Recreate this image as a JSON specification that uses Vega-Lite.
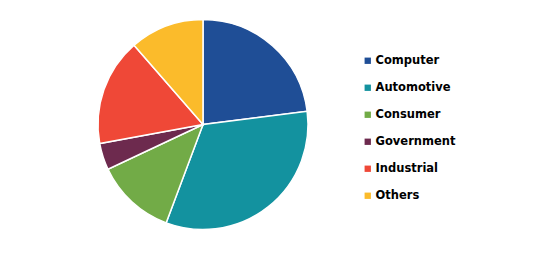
{
  "$schema": "https://vega.github.io/schema/vega-lite/v6.json",
  "autosize": "none",
  "padding": {"left": 0, "top": 0, "right": 129, "bottom": 4},
  "width": 406,
  "height": 249,
  "background": "white",
  "data": {
    "values": [
      {"idx": 1, "sector": "Computer", "share": 23.0},
      {"idx": 2, "sector": "Automotive", "share": 32.7},
      {"idx": 3, "sector": "Consumer", "share": 12.3},
      {"idx": 4, "sector": "Government", "share": 4.1},
      {"idx": 5, "sector": "Industrial", "share": 16.5},
      {"idx": 6, "sector": "Others", "share": 11.4}
    ]
  },
  "mark": {"type": "arc", "outerRadius": 105, "stroke": "white", "strokeWidth": 1.5},
  "encoding": {
    "theta": {"field": "share", "type": "quantitative", "stack": true},
    "order": {"field": "idx", "type": "quantitative"},
    "color": {
      "field": "sector",
      "type": "nominal",
      "sort": ["Computer", "Automotive", "Consumer", "Government", "Industrial", "Others"],
      "scale": {
        "domain": ["Computer", "Automotive", "Consumer", "Government", "Industrial", "Others"],
        "range": ["#1f4e96", "#13929f", "#72ab47", "#6d2a4e", "#ef4837", "#fbbb2b"]
      },
      "legend": {
        "title": null,
        "orient": "none",
        "legendX": 362,
        "legendY": 55,
        "symbolType": "square",
        "symbolSize": 40,
        "symbolStrokeWidth": 0,
        "labelFont": "DejaVu Sans",
        "labelFontWeight": "bold",
        "labelFontSize": 11.5,
        "labelColor": "#000000",
        "labelOffset": 2,
        "labelLimit": 200,
        "rowPadding": 14
      }
    }
  }
}
